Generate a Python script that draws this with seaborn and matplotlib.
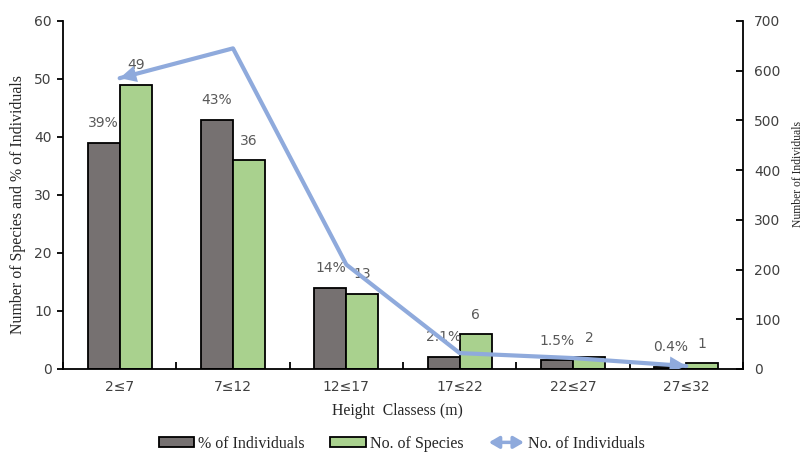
import numpy as np
import pandas as pd
import matplotlib
matplotlib.use("Agg")
import matplotlib.pyplot as plt
import seaborn as sns
from matplotlib.patches import FancyArrowPatch, Patch
from matplotlib.legend_handler import HandlerBase
from matplotlib.lines import Line2D

# Height classes and the measured series
height_classes = ["2≤7", "7≤12", "12≤17", "17≤22", "22≤27", "27≤32"]
pct_individuals = [39, 43, 14, 2.1, 1.5, 0.4]
pct_labels = ["39%", "43%", "14%", "2.1%", "1.5%", "0.4%"]
no_species = [49, 36, 13, 6, 2, 1]
no_individuals = [585, 645, 210, 32, 22, 6]

GRAY = "#767171"
GREEN = "#A9D18E"
BLUE = "#8FAADC"
LABEL_COLOR = "#595959"
TICK_COLOR = "#404040"

sns.set_theme(style="white")
plt.rcParams["font.family"] = ["DejaVu Sans"]

df = pd.DataFrame({
    "Height class": height_classes * 2,
    "value": pct_individuals + no_species,
    "series": ["% of Individuals"] * 6 + ["No. of Species"] * 6,
})

fig = plt.figure(figsize=(8.04, 4.54), dpi=100)
ax = fig.add_axes([63 / 804, 1 - 369 / 454, 680 / 804, 348 / 454])

sns.barplot(data=df, x="Height class", y="value", hue="series",
            palette=[GRAY, GREEN], width=0.565, edgecolor="black",
            linewidth=1.3, ax=ax, legend=False, saturation=1)

ax.set_xlim(-0.5, 5.5)
ax.set_ylim(0, 60)
ax.set_yticks(range(0, 61, 10))
ax.set_xlabel("")
ax.set_ylabel("")

# value labels above each bar
containers = ax.containers
for bar, txt in zip(containers[0], pct_labels):
    ax.annotate(txt, (bar.get_x() + bar.get_width() / 2, bar.get_height()),
                xytext=(0, 9), textcoords="offset points", ha="center",
                va="bottom", fontsize=10, color=LABEL_COLOR)
for bar, v in zip(containers[1], no_species):
    ax.annotate(str(v), (bar.get_x() + bar.get_width() / 2, bar.get_height()),
                xytext=(0, 9), textcoords="offset points", ha="center",
                va="bottom", fontsize=10, color=LABEL_COLOR)

# secondary axis: number of individuals
ax2 = ax.twinx()
xpos = np.arange(len(height_classes))
sns.lineplot(x=xpos, y=no_individuals, ax=ax2, color=BLUE, linewidth=3,
             legend=False)
ax2.set_ylim(0, 700)
ax2.set_yticks(range(0, 701, 100))
ax2.set_xlim(-0.5, 5.5)
ax2.set_ylabel("")

# arrowheads at both ends of the line
for tail, head in [(1, 0), (4, 5)]:
    ax2.add_patch(FancyArrowPatch(
        (xpos[tail], no_individuals[tail]), (xpos[head], no_individuals[head]),
        arrowstyle="-|>,head_length=12,head_width=6", mutation_scale=1,
        color=BLUE, linewidth=0, shrinkA=0, shrinkB=0, zorder=5))

# axis styling
for a in (ax, ax2):
    a.spines["top"].set_visible(False)
    for s in ("left", "right", "bottom"):
        a.spines[s].set_color("black")
        a.spines[s].set_linewidth(1.3)
ax.spines["right"].set_visible(False)
ax2.spines["left"].set_visible(False)
ax2.spines["bottom"].set_visible(False)

ax.set_xticks(xpos)
ax.set_xticklabels(height_classes)
ax.set_xticks(np.arange(-0.5, 5.6, 1), minor=True)
ax.tick_params(axis="x", which="major", length=0, pad=8, labelsize=10,
               labelcolor=TICK_COLOR)
ax.tick_params(axis="x", which="minor", direction="in", length=5, width=1.3,
               color="black", bottom=True)
ax.tick_params(axis="y", direction="out", length=4, width=1.3, color="black",
               labelsize=10, labelcolor=TICK_COLOR, left=True, pad=4)
ax2.tick_params(axis="y", direction="in", length=5, width=1.3, color="black",
                labelsize=10, labelcolor=TICK_COLOR, right=True, pad=8)

serif = ["Liberation Serif", "DejaVu Serif"]
fig.text(18 / 804, 1 - 204 / 454, "Number of Species and % of Individuals",
         rotation=90, ha="center", va="center", fontsize=11.4, family=serif,
         color="#262626")
fig.text(798 / 804, 1 - 174 / 454, "Number of Individuals",
         rotation=90, ha="center", va="center", fontsize=8.4, family=serif,
         color="#262626")
fig.text(397 / 804, 1 - 411 / 454, "Height  Classess (m)", ha="center",
         va="center", fontsize=11.3, family=serif, color="#262626")


class DoubleArrowHandler(HandlerBase):
    def create_artists(self, legend, orig_handle, xdescent, ydescent, width,
                       height, fontsize, trans):
        y = height / 2 - ydescent
        arr = FancyArrowPatch((-xdescent, y), (-xdescent + width, y),
                              arrowstyle="<|-|>,head_length=6,head_width=3.5",
                              mutation_scale=1, color=BLUE, linewidth=2.5,
                              shrinkA=0, shrinkB=0, transform=trans)
        return [arr]


handles = [
    Patch(facecolor=GRAY, edgecolor="black", linewidth=1.3),
    Patch(facecolor=GREEN, edgecolor="black", linewidth=1.3),
    Line2D([], [], color=BLUE),
]
labels = ["% of Individuals", "No. of Species", "No. of Individuals"]
fig.legend(handles, labels, loc="center", bbox_to_anchor=(402 / 804, 1 - 444 / 454),
           ncol=3, frameon=False, prop={"family": serif, "size": 11.5},
           handler_map={Line2D: DoubleArrowHandler()}, handlelength=2.2,
           handleheight=0.6, columnspacing=1.6, handletextpad=0.25,
           labelcolor="#262626")

fig.savefig("out.png", dpi=100)
